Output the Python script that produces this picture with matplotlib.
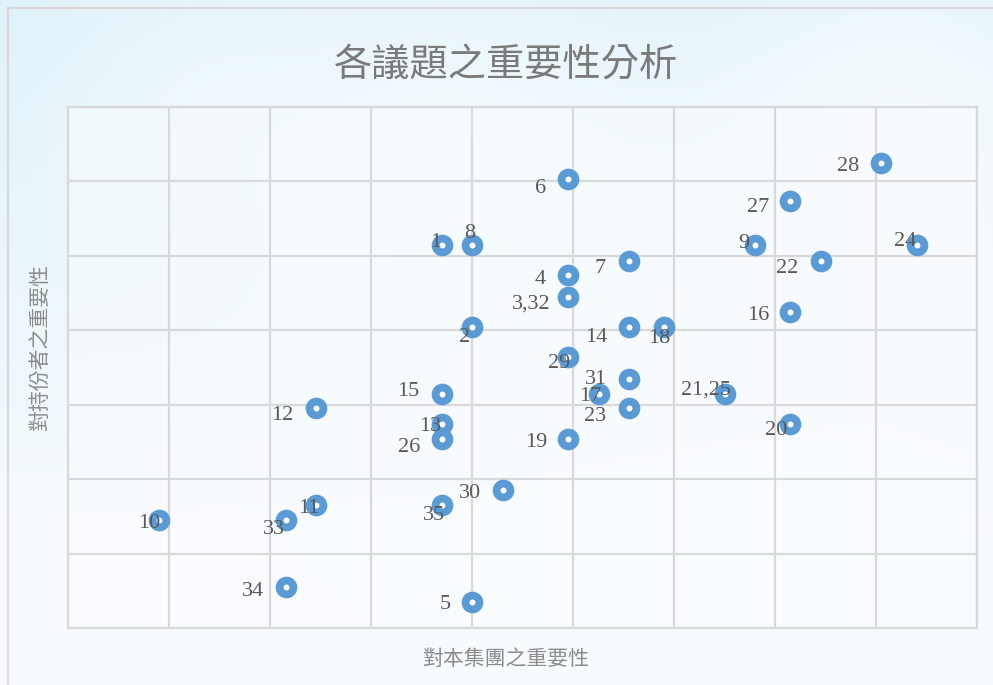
import numpy as np
import matplotlib
matplotlib.use("Agg")
import matplotlib.pyplot as plt
from matplotlib.lines import Line2D

# ---- data (grid units) ----
labels = ["28", "6", "27", "1", "8", "9", "24", "7", "22", "4", "3,32", "16",
          "2", "14", "18", "29", "31", "15", "17", "21,25", "12", "23", "13",
          "20", "26", "19", "30", "11", "35", "10", "33", "34", "5"]
x_vals = [8.05, 4.95, 7.15, 3.70, 4.00, 6.80, 8.41, 5.55, 7.46, 4.95, 4.95, 7.15,
          4.00, 5.55, 5.90, 4.95, 5.55, 3.70, 5.26, 6.50, 2.46, 5.55, 3.70,
          7.15, 3.70, 4.95, 4.31, 2.46, 3.70, 0.90, 2.16, 2.16, 4.00]
y_vals = [6.25, 6.03, 5.74, 5.15, 5.15, 5.15, 5.15, 4.93, 4.93, 4.74, 4.45, 4.25,
          4.05, 4.05, 4.05, 3.64, 3.35, 3.15, 3.15, 3.15, 2.95, 2.95, 2.74,
          2.74, 2.54, 2.54, 1.85, 1.65, 1.65, 1.45, 1.45, 0.55, 0.35]
# label offsets in pixels (dx right, dy down)
label_off = [(-33, 1), (-27, 7), (-32, 4), (-6, -5), (-2, -14), (-11, -4), (-12, -6),
             (-28, 5), (-34, 5), (-28, 2), (-37, 5), (-32, 1), (-7, 8), (-32, 8),
             (-5, 9), (-9, 4), (-33, -2), (-33, -5), (-9, 0), (-19, -6), (-34, 5),
             (-33, 6), (-12, 0), (-14, 4), (-33, 6), (-32, 1), (-33, 1), (-8, 1),
             (-8, 8), (-10, 1), (-12, 7), (-33, 2), (-27, 0)]

title = "各議題之重要性分析"
xlabel = "對本集團之重要性"
ylabel = "對持份者之重要性"

W, H = 993, 685
fig = plt.figure(figsize=(W / 100, H / 100), dpi=100)

# ---- background (sky gradient) ----
bg = fig.add_axes([0, 0, 1, 1], zorder=-10)
yy, xx = np.mgrid[0:H, 0:W]
t = np.clip(yy / (H * 0.75), 0, 1)[..., None]
top = np.array([0.87, 0.945, 0.975])
bot = np.array([0.965, 0.984, 0.997])
img = top * (1 - t) + bot * t
for cx, cy, r, a in [(450, 150, 150, 0.55), (900, 120, 130, 0.6), (200, 90, 110, 0.35),
                     (700, 350, 200, 0.35), (950, 300, 150, 0.4)]:
    g = np.exp(-((xx - cx) ** 2 + (yy - cy) ** 2) / (2 * r ** 2))[..., None] * a
    img = img * (1 - g) + np.array([0.985, 0.993, 1.0]) * g
bg.imshow(img, extent=[0, W, H, 0], aspect="auto")
bg.set_xlim(0, W)
bg.set_ylim(H, 0)
bg.axis("off")
bg.add_line(Line2D([7.5, 7.5], [7.5, H + 5], color="#d9d9d9", lw=1.6))
bg.add_line(Line2D([7.5, W + 5], [7.5, 7.5], color="#d9d9d9", lw=1.6))

# ---- plot area ----
L, R, T, B = 68, 977, 107, 628
ax = fig.add_axes([L / W, (H - B) / H, (R - L) / W, (B - T) / H])
ax.set_facecolor((1, 1, 1, 0.35))
ax.set_xlim(0, 9)
ax.set_ylim(0, 7)
ax.set_xticks(np.arange(0, 10, 1))
ax.set_yticks(np.arange(0, 8, 1))
ax.tick_params(length=0, labelbottom=False, labelleft=False)
ax.grid(True, color="#d9d9d9", lw=1.6)
ax.set_axisbelow(True)
for s in ax.spines.values():
    s.set_color("#d9d9d9")
    s.set_linewidth(1.6)

ax.scatter(x_vals, y_vals, s=10.0 ** 2, facecolor="white", edgecolor="#5b9bd5",
           linewidths=5.6, zorder=3)

for lab, xv, yv, (dx, dy) in zip(labels, x_vals, y_vals, label_off):
    ax.annotate(lab, (xv, yv), xytext=(dx, -dy), textcoords="offset pixels",
                ha="center", va="center_baseline", fontsize=16,
                family="Liberation Serif", color="#595959", zorder=4)

fig.text(506 / W, 1 - 65 / H, title, ha="center", va="center", fontsize=27.5,
         family=["Noto Sans CJK TC", "DejaVu Sans"], fontweight=200, color="#7a7a7a")
fig.text(506 / W, 1 - 659 / H, xlabel, ha="center", va="center", fontsize=15,
         family=["Noto Sans CJK TC", "DejaVu Sans"], color="#8c8c8c")
fig.text(40 / W, 1 - 348 / H, ylabel, ha="center", va="center", fontsize=15,
         rotation=90, family=["Noto Sans CJK TC", "DejaVu Sans"], color="#8c8c8c")

fig.savefig("out.png", dpi=100)
